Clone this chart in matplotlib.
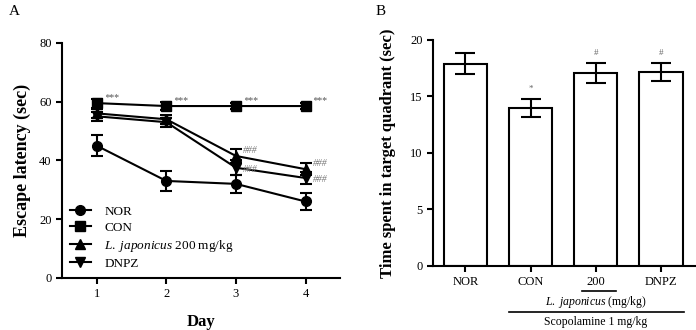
import matplotlib
matplotlib.use("Agg")
import matplotlib.pyplot as plt
import matplotlib.transforms as mtransforms
from matplotlib.lines import Line2D

plt.rcParams['font.family'] = ['Liberation Serif', 'DejaVu Serif']
plt.rcParams['mathtext.fontset'] = 'custom'
plt.rcParams['mathtext.rm'] = 'Liberation Serif'
plt.rcParams['mathtext.it'] = 'Liberation Serif:italic'

# panel A data
days = [1, 2, 3, 4]
nor_mean = [45, 33, 32, 26]
nor_err = [3.5, 3.5, 3, 3]
con_mean = [59.5, 58.5, 58.5, 58.5]
con_err = [1.5, 1.5, 1, 1]
lj_mean = [56, 54, 41.5, 37]
lj_err = [1.5, 1.5, 2.5, 2]
dnpz_mean = [55, 53, 37.5, 34]
dnpz_err = [1.5, 1.5, 2.5, 2]
series_labels = ['NOR', 'CON', r'$\it{L.\ japonicus}$ 200 mg/kg', 'DNPZ']
series_markers = ['o', 's', '^', 'v']

# panel B data
groups = ['NOR', 'CON', '200', 'DNPZ']
time_mean = [17.9, 14.0, 17.1, 17.2]
time_err = [0.9, 0.8, 0.9, 0.8]
time_marks = ['', '*', '#', '#']

fig = plt.figure(figsize=(6.96, 3.3), dpi=100)

# ---------- A ----------
ax = fig.add_axes([0.089, 0.158, 0.40, 0.712])
for mean, err, mk in zip([nor_mean, con_mean, lj_mean, dnpz_mean],
                         [nor_err, con_err, lj_err, dnpz_err], series_markers):
    ax.errorbar(days, mean, yerr=err, color='black', marker=mk, markersize=7,
                linewidth=1.5, elinewidth=1.5, capsize=4, capthick=1.5)

for d, v in zip(days, con_mean):
    ax.annotate('***', (d, v), xytext=(5, 2), textcoords='offset points',
                fontsize=7, color='#555555', style='italic')
for d, v in zip(days[2:], lj_mean[2:]):
    ax.annotate('###', (d, v), xytext=(5, 2), textcoords='offset points',
                fontsize=7, color='#777777', style='italic')
for d, v in zip(days[2:], dnpz_mean[2:]):
    ax.annotate('###', (d, v), xytext=(5, -3), textcoords='offset points',
                fontsize=7, color='#777777', style='italic')

ax.set_xlim(0.5, 4.5)
ax.set_ylim(0, 80)
ax.set_xticks(days)
ax.set_yticks([0, 20, 40, 60, 80])
ax.spines['top'].set_visible(False)
ax.spines['right'].set_visible(False)
ax.spines['left'].set_linewidth(1.5)
ax.spines['bottom'].set_linewidth(1.5)
ax.tick_params(labelsize=9, width=1.5, length=4)
ax.set_xlabel('Day', fontsize=12, fontweight='bold', labelpad=10)
ax.set_ylabel('Escape latency (sec)', fontsize=13, fontweight='bold', labelpad=6)
handles = [Line2D([], [], color='black', marker=m, markersize=7, linewidth=1.5)
           for m in series_markers]
ax.legend(handles, series_labels, loc='lower left', frameon=False, fontsize=9.5,
          handlelength=1.6, labelspacing=0.3, borderaxespad=0.2, handletextpad=1.0)
fig.text(0.012, 0.955, 'A', fontsize=11)

# ---------- B ----------
bx = fig.add_axes([0.622, 0.194, 0.376, 0.685])
xs = list(range(len(groups)))
bx.bar(xs, time_mean, width=0.67, color='white', edgecolor='black', linewidth=1.5,
       yerr=time_err, error_kw=dict(ecolor='black', elinewidth=1.5, capsize=7, capthick=1.5))
for x, v, e, m in zip(xs, time_mean, time_err, time_marks):
    if m:
        bx.text(x, v + e + 0.5, m, ha='center', va='bottom', fontsize=6.5, color='#666666')

bx.set_xlim(-0.5, 3.52)
bx.set_ylim(0, 20)
bx.set_xticks(xs)
bx.set_xticklabels(groups)
bx.set_yticks([0, 5, 10, 15, 20])
bx.spines['top'].set_visible(False)
bx.spines['right'].set_visible(False)
bx.spines['left'].set_linewidth(1.5)
bx.spines['bottom'].set_linewidth(1.5)
bx.tick_params(labelsize=9, width=1.5, length=4)
bx.set_ylabel('Time spent in target quadrant (sec)', fontsize=12, fontweight='bold', labelpad=10)

trans = mtransforms.blended_transform_factory(bx.transData, bx.transAxes)
bx.plot([1.79, 2.31], [-0.11, -0.11], color='black', linewidth=1.2, transform=trans, clip_on=False)
bx.text(2, -0.158, r'$\it{L.\ japonicus}$ (mg/kg)', ha='center', va='center',
        fontsize=8.5, transform=trans)
bx.plot([0.67, 3.35], [-0.205, -0.205], color='black', linewidth=1.2, transform=trans, clip_on=False)
bx.text(2, -0.274, 'Scopolamine 1 mg/kg', ha='center', va='bottom', fontsize=8.5, transform=trans)
fig.text(0.54, 0.955, 'B', fontsize=11)

fig.savefig('out.png', dpi=100)
